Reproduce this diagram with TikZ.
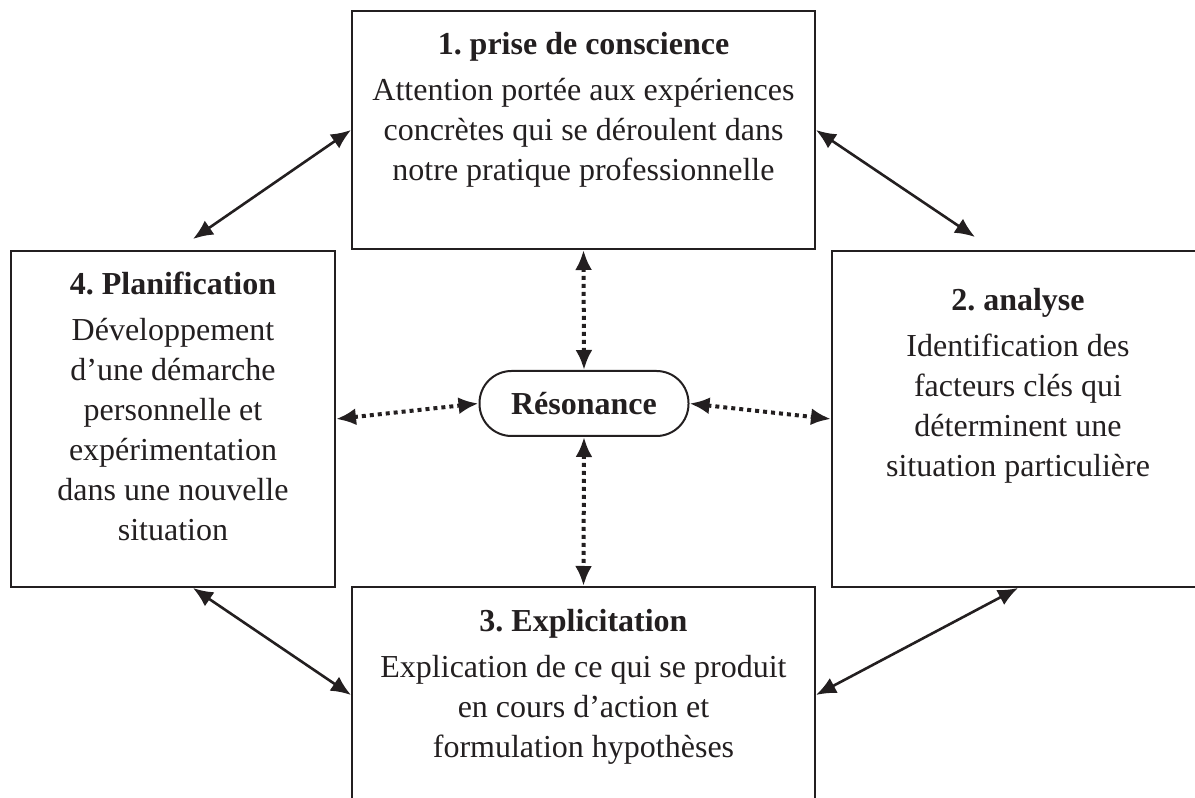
\documentclass[tikz,border=0pt]{standalone}
\usepackage{fontspec}
\setmainfont{Liberation Serif}
\usetikzlibrary{arrows.meta}
\definecolor{ink}{RGB}{35,31,32}
\frenchspacing
\begin{document}
\begin{tikzpicture}[x=0.5pt,y=0.5pt,>={Latex[length=10pt,width=8.5pt]},
  every node/.style={font=\fontsize{16}{20}\selectfont,text=ink},
  box/.style={draw=ink,line width=1pt,inner sep=0pt},
  boxtext/.style={anchor=north,align=center,inner sep=0pt},
  link/.style={<->,draw=ink,line width=1.3pt},
  dotlink/.style={<->,draw=ink,line width=2pt,dash pattern=on 2pt off 2pt}]
\clip (0,0) rectangle (1195,798);
% the four stages
\node[box,minimum width=231.5pt,minimum height=119pt] (prise) at (583.5,668) {};
\node[box,minimum width=162pt,minimum height=168pt] (plan) at (173,379) {};
\node[box,minimum width=186pt,minimum height=168pt] (analyse) at (1018,379) {};
\node[box,minimum width=231.5pt,minimum height=119pt] (explic) at (583.5,92) {};
\node[box,rounded corners=16pt,minimum width=104.5pt,minimum height=32.5pt] (reso) at (584,394.5) {\bfseries Résonance};
% texts
\node[boxtext] (prisetxt) at ([yshift=-11pt]prise.north) {\textbf{1. prise de conscience}\\[3pt]
  Attention portée aux expériences\\ concrètes qui se déroulent dans\\ notre pratique professionnelle};
\node[boxtext] (plantxt) at ([yshift=-11pt]plan.north) {\textbf{4. Planification}\\[3pt]
  Développement\\ d’une démarche\\ personnelle et\\ expérimentation\\ dans une nouvelle\\ situation};
\node[boxtext] (analysetxt) at ([yshift=-19pt]analyse.north) {\textbf{2. analyse}\\[3pt]
  Identification des\\ facteurs clés qui\\ déterminent une\\ situation particulière};
\node[boxtext] (explictxt) at ([yshift=-11.5pt]explic.north) {\textbf{3. Explicitation}\\[3pt]
  Explication de ce qui se produit\\ en cours d’action et\\ formulation hypothèses};
% cycle
\draw[link] (prise.west) -- ([shift={(20,11)}]plan.north);
\draw[link] (prise.east) -- ([shift={(-43,13)}]analyse.north);
\draw[link] ([shift={(20,0)}]plan.south) -- ([shift={(0,11)}]explic.west);
\draw[link] (analyse.south) -- ([shift={(0,11)}]explic.east);
% resonance
\draw[dotlink] (prise.south) -- (reso.north);
\draw[dotlink] (reso.south) -- (explic.north);
\draw[dotlink] (plan.east) -- (reso.west);
\draw[dotlink] (reso.east) -- (analyse.west);
\end{tikzpicture}
\end{document}
